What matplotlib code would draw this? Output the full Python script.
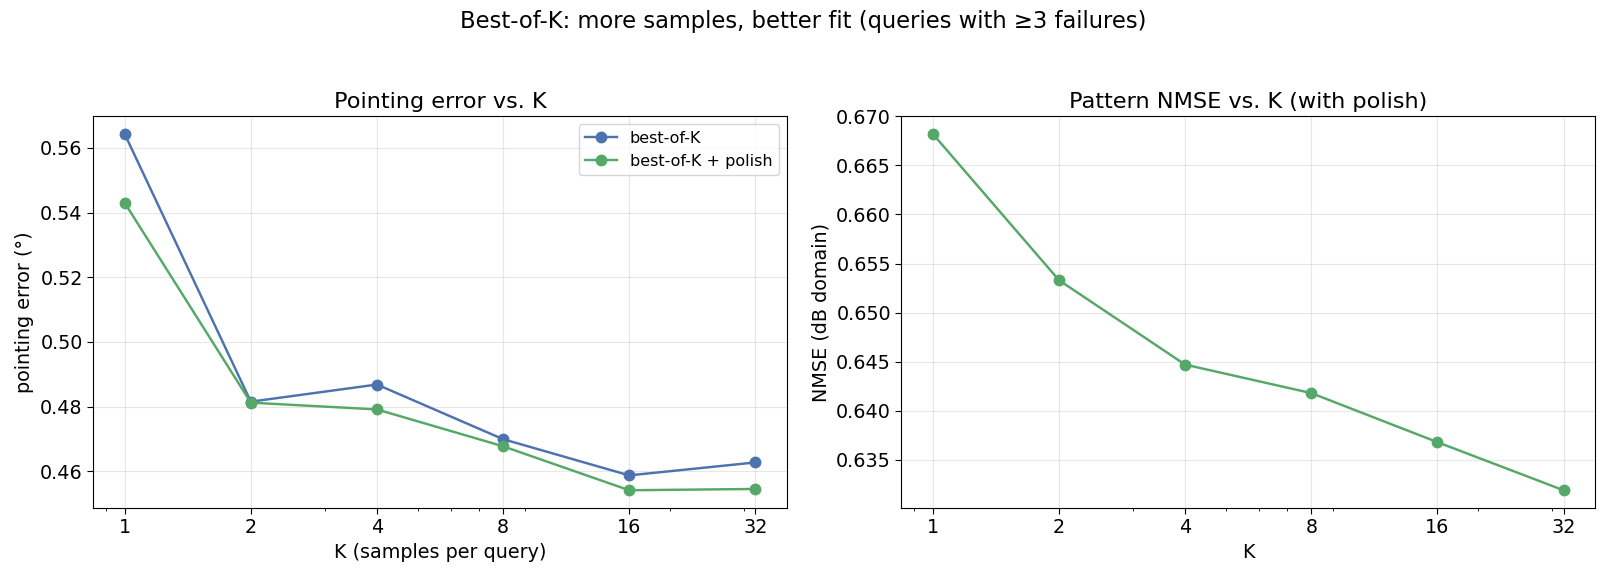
import numpy as np
import matplotlib
matplotlib.use("Agg")
import matplotlib.pyplot as plt
from matplotlib.ticker import NullFormatter

K = [1, 2, 4, 8, 16, 32]
err_best = [0.5643, 0.4815, 0.4868, 0.4699, 0.4587, 0.4627]
err_polish = [0.5430, 0.4812, 0.4791, 0.4677, 0.4541, 0.4545]
nmse_polish = [0.6682, 0.6533, 0.6447, 0.6418, 0.6368, 0.6319]

blue = '#4C72B0'
green = '#55A868'

plt.rcParams['font.size'] = 13.8
plt.rcParams['xtick.major.size'] = 4
plt.rcParams['ytick.major.size'] = 4

fig, (ax1, ax2) = plt.subplots(1, 2, figsize=(16.06, 5.78), dpi=100)
fig.subplots_adjust(left=0.058, right=0.9932, bottom=0.121, top=0.799, wspace=0.165)

ax1.plot(K, err_best, marker='o', color=blue, lw=1.75, ms=7.5, label='best-of-K')
ax1.plot(K, err_polish, marker='o', color=green, lw=1.75, ms=7.5, label='best-of-K + polish')
ax1.set_title('Pointing error vs. K', fontsize=16.1)
ax1.set_xlabel('K (samples per query)')
ax1.set_ylabel('pointing error (°)')
ax1.legend(fontsize=11.5, loc='upper right')

ax2.plot(K, nmse_polish, marker='o', color=green, lw=1.75, ms=7.5)
ax2.set_title('Pattern NMSE vs. K (with polish)', fontsize=16.1)
ax2.set_xlabel('K')
ax2.set_ylabel('NMSE (dB domain)')

for ax in (ax1, ax2):
    ax.set_xscale('log')
    ax.set_xticks(K)
    ax.set_xticklabels([str(k) for k in K])
    ax.xaxis.set_minor_formatter(NullFormatter())
    ax.grid(True, alpha=0.3)

fig.suptitle('Best-of-K: more samples, better fit (queries with ≥3 failures)', fontsize=16.3, y=0.982)

fig.savefig('out.png', dpi=100)
